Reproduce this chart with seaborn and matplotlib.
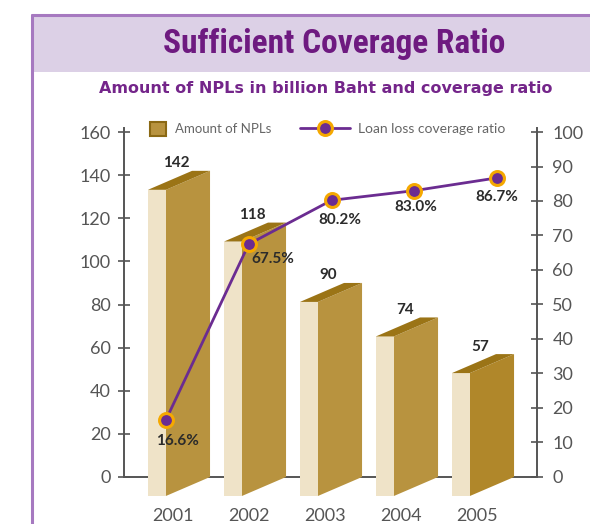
import matplotlib
matplotlib.use('Agg')
import matplotlib.pyplot as plt
import seaborn as sns
import numpy as np
from matplotlib.patches import Rectangle, Polygon, Patch
from matplotlib.lines import Line2D
from matplotlib.transforms import Affine2D
from matplotlib import font_manager as fm

# ---------------- data ----------------
years = ['2001', '2002', '2003', '2004', '2005']
npl = [142, 118, 90, 74, 57]
npl_labels = ['142', '118', '90', '74', '57']
coverage = [16.6, 67.5, 80.2, 83.0, 86.7]
coverage_labels = ['16.6%', '67.5%', '80.2%', '83.0%', '86.7%']
left_ticks = [0, 20, 40, 60, 80, 100, 120, 140, 160]
right_ticks = [0, 10, 20, 30, 40, 50, 60, 70, 80, 90, 100]
title = 'Sufficient Coverage Ratio'
subtitle = 'Amount of NPLs in billion Baht and coverage ratio'
legend_bar = 'Amount of NPLs'
legend_line = 'Loan loss coverage ratio'

# ---------------- style ----------------
sns.set_theme(style='white')
plt.rcParams['font.family'] = ['Lato', 'DejaVu Sans']

GOLD = '#b8933f'
GOLD_LAST = '#b0872a'
CREAM = '#efe3c8'
TOPC = '#9b7416'
PURPLE = '#6b2c91'
ORANGE = '#f5a800'
BORDER = '#a679c0'
HEADER = '#dcd0e6'
TITLEC = '#6e1a80'
AXC = '#555555'

W, H = 590, 524
fig = plt.figure(figsize=(W / 100, H / 100), dpi=100)
fig.patch.set_facecolor('white')


def fx(px):
    return px / W


def fy(py):
    return 1 - py / H


# header band and frame
fig.add_artist(Rectangle((fx(32), fy(72)), 1.0, fy(15) - fy(72), transform=fig.transFigure,
                         facecolor=HEADER, edgecolor='none', zorder=0))
fig.add_artist(Line2D([fx(32), fx(32)], [fy(15), 0], transform=fig.transFigure, color=BORDER, lw=2.2))
fig.add_artist(Line2D([fx(32), 1], [fy(15), fy(15)], transform=fig.transFigure, color=BORDER, lw=2.2))

# title font choice (condensed if available)
names = {f.name for f in fm.fontManager.ttflist}
title_fam = 'DejaVu Sans'
for cand in ['Liberation Sans Narrow', 'DejaVu Sans Condensed', 'Roboto Condensed',
             'Open Sans Condensed', 'Noto Sans Condensed']:
    if cand in names:
        title_fam = cand
        break
t = fig.text(fx(334), fy(44), title, ha='center', va='center', color=TITLEC,
             fontsize=30, fontweight='bold', family=[title_fam, 'DejaVu Sans'])
st = fig.text(fx(326), fy(88), subtitle, ha='center', va='center', color='#74258a',
              fontsize=11, fontweight='bold', family=['DejaVu Sans'])
fig.canvas.draw()
t.set_fontsize(30 * 342 / t.get_window_extent().width)
st.set_fontsize(11 * 448 / st.get_window_extent().width)

# ---------------- bar axes ----------------
ax_rect = [fx(124), fy(500), fx(537) - fx(124), fy(128) - fy(500)]
ax = fig.add_axes(ax_rect)
ax.patch.set_alpha(0)

pal = [GOLD] * (len(years) - 1) + [GOLD_LAST]
sns.barplot(x=years, y=npl, hue=years, palette=pal, legend=False, width=0.58,
            saturation=1, ax=ax, zorder=3)

ax.set_xlim(-0.842, 4.592)
ax.set_ylim(-10.67, 161.87)
skew = 8.8       # depth of the 3D effect in data units
cream_w = 0.237

for i, p in enumerate(list(ax.patches)):
    x0, w, h = p.get_x(), p.get_width(), p.get_height()
    # shear the seaborn bar into the slanted front face
    m = np.array([[1, 0, 0], [skew / w, 1, -skew - x0 * skew / w], [0, 0, 1]])
    p.set_transform(Affine2D(m) + ax.transData)
    p.set_edgecolor('none')
    ax.add_patch(Rectangle((x0 - cream_w, -skew), cream_w, h, facecolor=CREAM,
                           edgecolor='none', zorder=3))
    ax.add_patch(Polygon([(x0 - cream_w, h - skew), (x0, h - skew), (x0 + w, h),
                          (x0 + w - cream_w, h)], closed=True, facecolor=TOPC,
                         edgecolor='none', zorder=3))
    ax.text(i - 0.15, h + 3.5, npl_labels[i], ha='center', va='center',
            fontsize=11, fontweight='bold', color='#2b2b2b', zorder=5)

for s in ['top', 'right']:
    ax.spines[s].set_visible(False)
ax.spines['bottom'].set_position(('data', 0))
ax.spines['left'].set_bounds(0, 161.87)
for s in ['left', 'bottom']:
    ax.spines[s].set_color(AXC)
    ax.spines[s].set_linewidth(1.4)
    ax.spines[s].set_zorder(2)

ax.set_yticks(left_ticks)
ax.set_yticklabels([str(v) for v in left_ticks])
ax.tick_params(axis='y', direction='inout', length=8, width=1.2, color=AXC,
               labelsize=13, labelcolor=AXC, pad=5.5, left=True)
ax.set_xticks([i - 0.2 for i in range(len(years))])
ax.set_xticklabels(years)
ax.tick_params(axis='x', length=0, labelsize=13, labelcolor=AXC, pad=22)
ax.set_xlabel('')
ax.set_ylabel('')

# ---------------- line axes ----------------
ax2 = fig.add_axes(ax_rect)
ax2.patch.set_alpha(0)
sns.lineplot(x=np.arange(len(years)), y=coverage, ax=ax2, color=PURPLE, lw=2,
             marker='o', markersize=10, markerfacecolor=PURPLE,
             markeredgecolor=ORANGE, markeredgewidth=2.2, zorder=6)
ax2.set_xlim(-0.5076, 4.483)
ax2.set_ylim(-6.67, 101.16)
for s in ['top', 'left', 'bottom']:
    ax2.spines[s].set_visible(False)
ax2.spines['right'].set_visible(True)
ax2.spines['right'].set_color(AXC)
ax2.spines['right'].set_linewidth(1.4)
ax2.spines['right'].set_bounds(0, 101.16)
ax2.yaxis.tick_right()
ax2.set_yticks(right_ticks)
ax2.set_yticklabels([str(v) for v in right_ticks])
ax2.tick_params(axis='y', direction='inout', length=8, width=1.2, color=AXC,
                labelsize=13, labelcolor=AXC, pad=7, right=True, left=False)
ax2.set_xticks([])
ax2.set_xlabel('')
ax2.set_ylabel('')

label_offsets = [(8, -15), (17, -11), (6, -14), (1, -12), (0, -14)]
for i, (v, lab) in enumerate(zip(coverage, coverage_labels)):
    ax2.annotate(lab, (i, v), xytext=label_offsets[i], textcoords='offset points',
                 ha='center', va='center', fontsize=11, fontweight='bold',
                 color='#2b2b2b', zorder=7)

# ---------------- legends ----------------
h_bar = Patch(facecolor=GOLD, edgecolor='#8b6914', linewidth=1.5)
leg1 = fig.legend([h_bar], [legend_bar], loc='center left',
                  bbox_to_anchor=(fx(138), fy(129)), frameon=False, fontsize=9.5,
                  handlelength=1.2, handleheight=1.2, handletextpad=0.7, labelcolor='#666666')
h_line = Line2D([], [], color=PURPLE, lw=2, marker='o', markersize=10,
                markerfacecolor=PURPLE, markeredgecolor=ORANGE, markeredgewidth=2.2)
leg2 = fig.legend([h_line], [legend_line], loc='center left',
                  bbox_to_anchor=(fx(287), fy(129)), frameon=False, fontsize=10,
                  handlelength=3.6, handletextpad=0.6, labelcolor='#666666')

fig.savefig('out.png', dpi=100, facecolor='white')
